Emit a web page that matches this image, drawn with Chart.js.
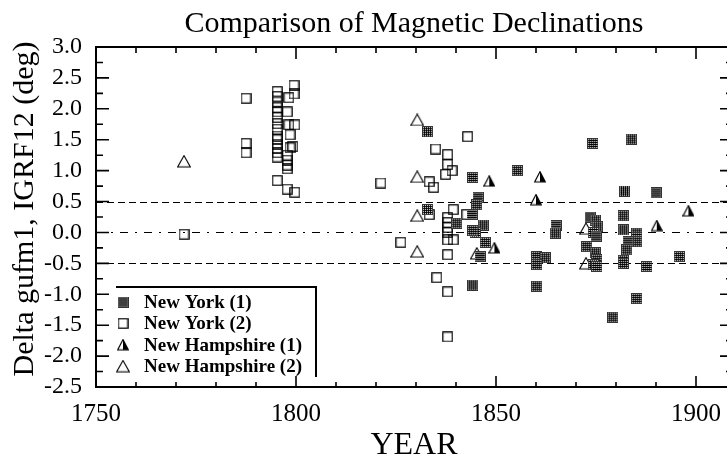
<!DOCTYPE html>
<html>
<head>
<meta charset="utf-8">
<title>Comparison of Magnetic Declinations</title>
<script src="https://cdn.jsdelivr.net/npm/chart.js@4.4.1/dist/chart.umd.min.js"></script>
<style>
    html, body { margin: 0; padding: 0; background: #fff; overflow: hidden; }
    canvas { display: block; }
</style>
</head>
<body>
<canvas id="declChart" width="740" height="458"></canvas>
<script>
/* ---------------------------------
   Data
----------------------------------*/
const xTicks = [1750, 1800, 1850, 1900];
const yTicks = [-2.5, -2.0, -1.5, -1.0, -0.5, 0.0, 0.5, 1.0, 1.5, 2.0, 2.5, 3.0];
const refLines = [0.5, 0.0, -0.5];

const seriesNames = ["New York (1)", "New York (2)", "New Hampshire (1)", "New Hampshire (2)"];

const nyOneYears = [1832.9, 1832.9, 1844.2, 1855.3, 1845.5, 1845.2, 1844.0, 1840.2, 1846.8, 1844.8,
    1844.2, 1847.3, 1846.0, 1844.2, 1874.2, 1883.8, 1882.1, 1890.0, 1865.0, 1864.8,
    1873.5, 1874.8, 1875.3, 1874.3, 1875.0, 1872.7, 1874.8, 1875.2, 1874.3, 1875.2,
    1881.8, 1881.8, 1885.2, 1885.2, 1885.2, 1883.0, 1882.7, 1881.8, 1881.8, 1887.7,
    1860.2, 1862.3, 1860.2, 1860.2, 1895.8, 1885.2, 1879.2];
const nyOneValues = [1.63, 0.37, 0.89, 1.00, 0.57, 0.45, 0.29, 0.15, 0.12, 0.00,
    0.03, -0.16, -0.39, -0.85, 1.44, 1.51, 0.67, 0.64, 0.11, -0.01,
    0.25, 0.20, 0.09, 0.00, -0.06, -0.23, -0.33, -0.44, -0.52, -0.55,
    0.27, 0.04, -0.01, -0.08, -0.15, -0.15, -0.28, -0.45, -0.50, -0.55,
    -0.39, -0.41, -0.52, -0.87, -0.39, -1.07, -1.37];

const nyTwoYears = [1772.0, 1787.5, 1787.5, 1787.5,
    1795.3, 1795.3, 1795.3, 1795.3, 1795.3, 1795.3, 1795.3, 1795.3, 1795.3, 1795.3,
    1795.3, 1795.3, 1795.3, 1795.3, 1795.3,
    1799.5, 1799.5, 1798.2, 1797.8, 1798.2, 1799.7, 1798.5, 1799.2, 1798.5, 1797.8,
    1797.8, 1797.8, 1797.8, 1797.8, 1799.7,
    1821.2, 1826.2, 1833.3, 1834.4, 1833.3, 1834.9, 1835.2, 1837.9, 1837.9, 1839.0,
    1837.4, 1842.9, 1839.3, 1842.7, 1837.9, 1837.9, 1837.9, 1837.9, 1837.9, 1839.3,
    1837.9, 1837.9, 1837.9];
const nyTwoValues = [-0.03, 2.17, 1.44, 1.29,
    2.28, 2.20, 2.11, 2.02, 1.95, 1.86, 1.76, 1.67, 1.56, 1.50,
    1.43, 1.36, 1.29, 1.22, 0.84,
    2.38, 2.24, 2.18, 1.95, 1.74, 1.74, 1.58, 1.39, 1.37, 1.25,
    1.17, 1.09, 1.03, 0.70, 0.65,
    0.80, -0.16, 0.82, 0.73, 0.29, 1.35, -0.73, 1.26, 1.10, 1.00,
    0.94, 1.55, 0.37, 0.29, 0.24, 0.16, 0.08, 0.00, -0.12, -0.12,
    -0.36, -0.96, -1.69];

const nhOneYears = [1848.3, 1849.6, 1861.0, 1860.0, 1898.1, 1890.2];
const nhOneValues = [0.83, -0.25, 0.90, 0.53, 0.35, 0.11];

const nhTwoYears = [1772.0, 1830.3, 1830.3, 1830.3, 1830.3, 1845.2, 1872.5, 1872.5];
const nhTwoValues = [1.15, 1.82, 0.90, 0.27, -0.31, -0.34, 0.06, -0.50];

const SERIF = "'Liberation Serif', 'DejaVu Serif', serif";

/* ---------------------------------
   Marker images
----------------------------------*/
function makeCanvas(w, h) {
    const c = document.createElement("canvas");
    c.width = w;
    c.height = h;
    return c;
}

function gridSquare() {
    const c = makeCanvas(11, 11);
    const g = c.getContext("2d");
    g.fillStyle = "#fff";
    g.fillRect(0, 0, 11, 11);
    g.strokeStyle = "#000";
    g.lineWidth = 1;
    g.beginPath();
    for (let i = 2.5; i < 10; i += 2) {
        g.moveTo(i, 0); g.lineTo(i, 11);
        g.moveTo(0, i); g.lineTo(11, i);
    }
    g.stroke();
    g.strokeStyle = "#333";
    g.strokeRect(0.5, 0.5, 10, 10);
    return c;
}

function openSquare() {
    const c = makeCanvas(11, 11);
    const g = c.getContext("2d");
    g.strokeStyle = "#000";
    g.lineWidth = 1.2;
    g.strokeRect(0.8, 0.8, 9.4, 9.4);
    return c;
}

function halfTriangle() {
    const c = makeCanvas(12, 12);
    const g = c.getContext("2d");
    g.strokeStyle = "#000";
    g.fillStyle = "#000";
    g.lineWidth = 1.2;
    g.beginPath();
    g.moveTo(6, 0.8); g.lineTo(6, 11); g.lineTo(11.3, 11); g.closePath();
    g.fill();
    g.beginPath();
    g.moveTo(6, 0.8); g.lineTo(11.3, 11); g.lineTo(0.7, 11); g.closePath();
    g.stroke();
    return c;
}

function openTriangle() {
    const c = makeCanvas(14, 13);
    const g = c.getContext("2d");
    g.strokeStyle = "#000";
    g.lineWidth = 1.1;
    g.beginPath();
    g.moveTo(7, 0.8); g.lineTo(13.3, 12); g.lineTo(0.7, 12); g.closePath();
    g.stroke();
    return c;
}

const markers = [gridSquare(), openSquare(), halfTriangle(), openTriangle()];

function toPoints(xs, ys) {
    return xs.map((x, i) => ({ x: x, y: ys[i] }));
}

/* ---------------------------------
   Frame, ticks, lines, texts, legend
----------------------------------*/
const framePlugin = {
    id: "frame",
    beforeDatasetsDraw(chart) {
        const ctx = chart.ctx;
        const { left, right } = chart.chartArea;
        const y = chart.scales.y;
        ctx.save();
        ctx.strokeStyle = "#000";
        ctx.lineWidth = 1;
        refLines.forEach(v => {
            const py = Math.round(y.getPixelForValue(v)) + 0.5;
            ctx.setLineDash(v === 0 ? [8, 7, 2, 7] : [7, 4]);
            ctx.beginPath();
            ctx.moveTo(left, py);
            ctx.lineTo(right, py);
            ctx.stroke();
        });
        ctx.restore();
    },
    afterDraw(chart) {
        const ctx = chart.ctx;
        const { left, right, top, bottom } = chart.chartArea;
        const x = chart.scales.x;
        const y = chart.scales.y;

        ctx.save();
        ctx.strokeStyle = "#000";
        ctx.lineWidth = 2;
        ctx.strokeRect(left, top, right - left, bottom - top);

        // inward tick marks
        ctx.lineWidth = 1.6;
        ctx.beginPath();
        for (let yr = 1750; yr <= 1910; yr += 10) {
            const px = x.getPixelForValue(yr);
            const major = yr % 50 === 0;
            ctx.moveTo(px, bottom); ctx.lineTo(px, bottom - (major ? 11 : 5));
            ctx.moveTo(px, top); ctx.lineTo(px, top + (major ? 12 : 6));
        }
        for (let k = -10; k <= 12; k++) {
            const v = k * 0.25;
            const py = y.getPixelForValue(v);
            const major = k % 2 === 0;
            ctx.moveTo(left, py); ctx.lineTo(left + (major ? 13 : 7), py);
            ctx.moveTo(right, py); ctx.lineTo(right - (major ? 12 : 6), py);
        }
        ctx.stroke();

        // titles
        ctx.fillStyle = "#000";
        ctx.textAlign = "center";
        ctx.textBaseline = "alphabetic";
        ctx.font = "30px " + SERIF;
        ctx.fillText("Comparison of Magnetic Declinations", (left + right) / 2, 32);
        ctx.font = "32px " + SERIF;
        ctx.fillText("YEAR", (left + right) / 2, 454);

        ctx.save();
        ctx.translate(33, 209);
        ctx.rotate(-Math.PI / 2);
        ctx.font = "30px " + SERIF;
        ctx.fillText("Delta gufm1, IGRF12 (deg)", 0, 0);
        ctx.restore();

        // legend box (top and right edges only)
        ctx.lineWidth = 2;
        ctx.beginPath();
        ctx.moveTo(116, 287);
        ctx.lineTo(316, 287);
        ctx.lineTo(316, 377);
        ctx.stroke();

        ctx.textAlign = "left";
        ctx.textBaseline = "middle";
        ctx.font = "bold 19px " + SERIF;
        seriesNames.forEach((name, i) => {
            const ry = 302 + i * 21.4;
            const m = markers[i];
            ctx.drawImage(m, 123 - m.width / 2, ry - m.height / 2);
            ctx.fillText(name, 144, ry + 1);
        });
        ctx.restore();
    }
};

/* ---------------------------------
   Chart
----------------------------------*/
function fixTicks(values) {
    return scale => { scale.ticks = values.map(v => ({ value: v })); };
}

const chart = new Chart(document.getElementById("declChart"), {
    type: "scatter",
    data: {
        datasets: [
            { label: seriesNames[0], data: toPoints(nyOneYears, nyOneValues), pointStyle: markers[0] },
            { label: seriesNames[1], data: toPoints(nyTwoYears, nyTwoValues), pointStyle: markers[1] },
            { label: seriesNames[2], data: toPoints(nhOneYears, nhOneValues), pointStyle: markers[2] },
            { label: seriesNames[3], data: toPoints(nhTwoYears, nhTwoValues), pointStyle: markers[3] }
        ]
    },
    options: {
        responsive: false,
        animation: false,
        layout: { padding: { left: 0, right: 8, top: 47, bottom: 0 } },
        plugins: {
            legend: { display: false },
            tooltip: { enabled: false },
            title: { display: false }
        },
        scales: {
            x: {
                type: "linear",
                min: 1750,
                max: 1909,
                afterBuildTicks: fixTicks(xTicks),
                afterFit: s => { s.height = 71; },
                grid: { display: false, drawTicks: false },
                border: { display: false },
                ticks: {
                    color: "#000",
                    padding: 12,
                    autoSkip: false,
                    maxRotation: 0,
                    font: { family: SERIF, size: 25 },
                    callback: v => String(v)
                }
            },
            y: {
                type: "linear",
                min: -2.5,
                max: 3.0,
                afterBuildTicks: fixTicks(yTicks),
                afterFit: s => { s.width = 96; },
                grid: { display: false, drawTicks: false },
                border: { display: false },
                ticks: {
                    color: "#000",
                    padding: 14,
                    autoSkip: false,
                    font: { family: SERIF, size: 24 },
                    callback: v => v.toFixed(1)
                }
            }
        }
    },
    plugins: [framePlugin]
});
</script>
</body>
</html>
